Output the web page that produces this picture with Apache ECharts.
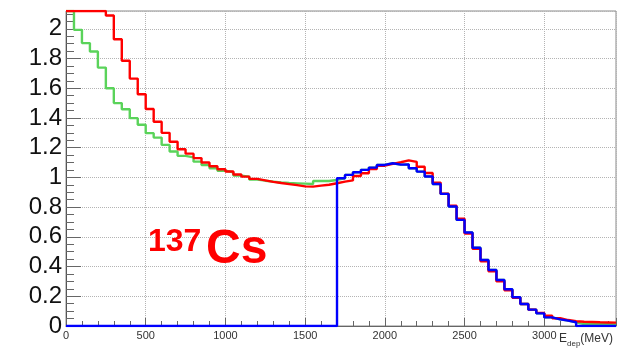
<!DOCTYPE html>
<html>
<head>
<meta charset="utf-8">
<script src="https://cdn.jsdelivr.net/npm/echarts@6/dist/echarts.min.js"></script>
<style>
html,body{margin:0;padding:0;background:#fff;}
#chart{width:623px;height:356px;}
</style>
</head>
<body>
<div id="chart"></div>
<script>
// Histogram binning (MeV)
const binStart = 0;
const binWidth = 50;
const nBins = 69;
const xTicks = [0, 500, 1000, 1500, 2000, 2500, 3000];
const yTicks = [0, 0.2, 0.4, 0.6, 0.8, 1, 1.2, 1.4, 1.6, 1.8, 2];
// values above the frame top are shown at the frame (2.12)
const redValues = [
  2.12, 2.12, 2.12, 2.12, 2.12, 2.09, 1.93, 1.785, 1.665, 1.56,
  1.46, 1.375, 1.30, 1.24, 1.19, 1.16, 1.13, 1.10, 1.075, 1.055,
  1.04, 1.02, 1.005, 0.99, 0.98, 0.97, 0.962, 0.955, 0.948, 0.94,
  0.938, 0.945, 0.951, 0.961, 0.972, 0.98, 1.01, 1.028, 1.057, 1.079,
  1.091, 1.102, 1.115, 1.105, 1.072, 1.03, 0.965, 0.89, 0.81, 0.722,
  0.622, 0.52, 0.435, 0.368, 0.30, 0.24, 0.19, 0.148, 0.11, 0.088,
  0.069, 0.052, 0.04, 0.032, 0.029, 0.027, 0.025, 0.024, 0.023
];
const greenValues = [
  2.12, 1.993, 1.904, 1.847, 1.739, 1.60, 1.50, 1.459, 1.399, 1.354,
  1.298, 1.268, 1.219, 1.174, 1.145, 1.135, 1.106, 1.084, 1.062, 1.045,
  1.035, 1.012, 1.005, 0.985, 0.978, 0.972, 0.966, 0.962, 0.96, 0.958,
  0.956, 0.976, 0.976, 0.983, 0.994, 1.017, 1.035, 1.051, 1.066, 1.084,
  1.095, 1.086, 1.088, 1.062, 1.039, 1.006, 0.956, 0.889, 0.804, 0.714,
  0.629, 0.527, 0.444, 0.377, 0.31, 0.247, 0.193, 0.148, 0.11, 0.085,
  0.058, 0.045, 0.036, 0.025, 0.013, 0.013, 0.012, 0.012, 0.011
];
const blueValues = [
  0, 0, 0, 0, 0, 0, 0, 0, 0, 0,
  0, 0, 0, 0, 0, 0, 0, 0, 0, 0,
  0, 0, 0, 0, 0, 0, 0, 0, 0, 0,
  0, 0, 0, 0, 0.994, 1.017, 1.035, 1.051, 1.066, 1.084,
  1.095, 1.086, 1.088, 1.062, 1.039, 1.006, 0.956, 0.889, 0.804, 0.714,
  0.629, 0.527, 0.444, 0.377, 0.31, 0.247, 0.193, 0.148, 0.11, 0.085,
  0.058, 0.045, 0.036, 0.025, 0, 0, 0, 0, 0
];
const X_MAX = 3450;
const Y_MAX = 2.12;

const edges = [];
for (let i = 0; i <= nBins; i++) edges.push(binStart + i * binWidth);

function stepData(vals) {
  const pts = vals.map((v, i) => [edges[i], v]);
  pts.push([edges[vals.length], vals[vals.length - 1]]);
  return pts;
}

const FONT = "'Liberation Sans', Arial, Helvetica, sans-serif";
const chart = echarts.init(document.getElementById('chart'), null, {renderer: 'canvas'});

function histSeries(name, vals, color) {
  return {
    name: name,
    type: 'line',
    step: 'end',
    data: stepData(vals),
    showSymbol: false,
    symbol: 'none',
    clip: true,
    lineStyle: {color: color, width: 2.4},
    itemStyle: {color: color},
    emphasis: {disabled: true}
  };
}

chart.setOption({
  animation: false,
  backgroundColor: '#ffffff',
  grid: {left: 66, right: 7, top: 11, bottom: 30, show: true, borderColor: '#8a8a8a', borderWidth: 1, backgroundColor: 'transparent'},
  xAxis: {
    type: 'value',
    min: 0, max: X_MAX, interval: 500,
    axisLine: {show: true, lineStyle: {color: '#666', width: 1}},
    axisTick: {show: true, inside: true, length: 8, lineStyle: {color: '#666'}},
    minorTick: {show: true, splitNumber: 5, length: 5, lineStyle: {color: '#666'}},
    axisLabel: {
      show: true, showMaxLabel: false, margin: 4, fontSize: 11, color: '#333', fontFamily: FONT,
      formatter: v => (xTicks.indexOf(v) >= 0 ? String(v) : '')
    },
    splitLine: {show: true, lineStyle: {color: '#b4b4b4', type: [1, 1], width: 1}}
  },
  yAxis: {
    type: 'value',
    min: 0, max: Y_MAX, interval: 0.2,
    axisLine: {show: true, lineStyle: {color: '#555', width: 1}},
    axisTick: {show: true, inside: true, length: 15, lineStyle: {color: '#666'}},
    minorTick: {show: true, splitNumber: 4, length: 8, lineStyle: {color: '#666'}},
    axisLabel: {
      show: true, showMaxLabel: false, margin: 4, fontSize: 24, color: '#111', fontFamily: FONT,
      padding: [7, 0, 0, 0],
      formatter: v => {
        const m = yTicks.find(t => Math.abs(t - v) < 1e-6);
        return m === undefined ? '' : String(m);
      }
    },
    splitLine: {show: true, lineStyle: {color: '#b4b4b4', type: [1, 1], width: 1}}
  },
  series: [
    histSeries('green', greenValues, '#5ad35a'),
    histSeries('red', redValues, '#ff0000'),
    histSeries('blue', blueValues, '#0000ff')
  ],
  graphic: [
    {
      type: 'text', left: 148, top: 226, z: 100,
      style: {text: '137', fill: '#ff0000', font: "bold 32px " + FONT}
    },
    {
      type: 'text', left: 206, top: 226, z: 100,
      style: {text: 'Cs', fill: '#ff0000', font: "bold 48px " + FONT}
    },
    {
      type: 'text', right: 10, top: 333, z: 100,
      style: {
        text: '{a|E}{s|dep}{a|(MeV)}',
        rich: {
          a: {fontSize: 12, fontFamily: FONT, fill: '#333', color: '#333', verticalAlign: 'top'},
          s: {fontSize: 8, fontFamily: FONT, fill: '#333', color: '#333', padding: [7, 0, 0, 0], verticalAlign: 'top'}
        }
      }
    }
  ]
});
</script>
</body>
</html>
